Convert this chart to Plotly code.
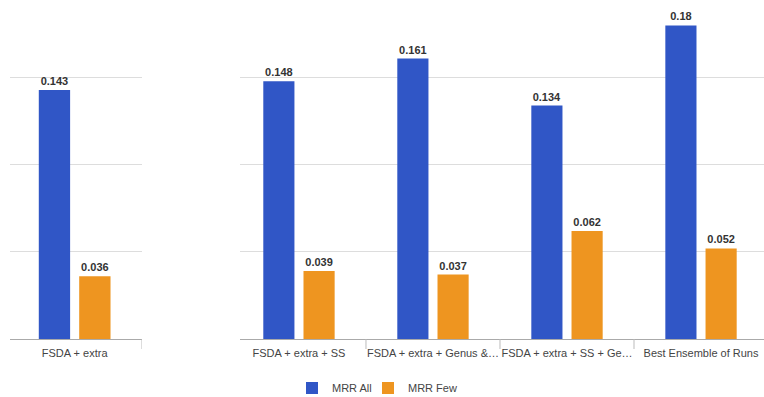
import plotly.graph_objects as go

left_categories = ["FSDA + extra"]
right_categories = ["FSDA + extra + SS", "FSDA + extra + Genus &…",
                    "FSDA + extra + SS + Ge…", "Best Ensemble of Runs"]
left_mrr_all = [0.143]
left_mrr_few = [0.036]
right_mrr_all = [0.148, 0.161, 0.134, 0.18]
right_mrr_few = [0.039, 0.037, 0.062, 0.052]
series_names = ["MRR All", "MRR Few"]
colors = ["#3056C6", "#EE9520"]
legend_ids = ["legend", "legend2"]

W, H = 764, 397
txtfont = dict(family="Liberation Sans, Arial", size=11, color="#333333", weight="bold")

fig = go.Figure()
for xa, ya, cats, a, f, show in [("x", "y", left_categories, left_mrr_all, left_mrr_few, False),
                                  ("x2", "y2", right_categories, right_mrr_all, right_mrr_few, True)]:
    for name, vals, col, lg in zip(series_names, [a, f], colors, legend_ids):
        fig.add_trace(go.Bar(
            x=cats, y=vals, name=name, marker=dict(color=col, line=dict(width=0)),
            text=[f"{v:g}" for v in vals], textposition="outside", textfont=txtfont,
            cliponaxis=False, xaxis=xa, yaxis=ya, showlegend=show, legendgroup=name,
            legend=lg,
        ))

yax = dict(range=[0, 0.19], dtick=0.05, showticklabels=False, showgrid=True,
           gridcolor="#dddddd", gridwidth=1, zeroline=True, zerolinecolor="#aaaaaa",
           zerolinewidth=1, showline=False, ticks="")
xax = dict(type="category", showgrid=False, showline=False, ticks="",
           tickfont=dict(family="Liberation Sans, Arial", size=11, color="#444444"),
           ticklabelstandoff=6)
legfont = dict(family="Liberation Sans, Arial", size=11, color="#444444")

fig.update_layout(
    width=W, height=H,
    margin=dict(l=0, r=0, t=8, b=58, autoexpand=False),
    paper_bgcolor="white", plot_bgcolor="white",
    barmode="group", bargap=0.40, bargroupgap=0.225,
    xaxis=dict(xax, domain=[10 / W, 142 / W], range=[-0.48, 0.5], anchor="y"),
    xaxis2=dict(xax, domain=[240 / W, 1], range=[-0.44, 3.47], anchor="y2"),
    yaxis=dict(yax, anchor="x"),
    yaxis2=dict(yax, anchor="x2"),
    legend=dict(orientation="h", x=292 / W, xanchor="left", y=-49 / 331, yanchor="middle",
                font=legfont, itemwidth=30, bgcolor="rgba(0,0,0,0)"),
    legend2=dict(orientation="h", x=368 / W, xanchor="left", y=-49 / 331, yanchor="middle",
                 font=legfont, itemwidth=30, bgcolor="rgba(0,0,0,0)"),
    showlegend=True,
)

shapes = []
for xref, positions in [("x", [0.5]), ("x2", [0.5, 1.5, 2.5])]:
    for p in positions:
        shapes.append(dict(type="line", xref=xref, yref="paper", x0=p, x1=p, y0=0,
                           y1=-10 / 331, line=dict(color="#bbbbbb", width=1)))
fig.update_layout(shapes=shapes)

fig.write_html("out.html")
